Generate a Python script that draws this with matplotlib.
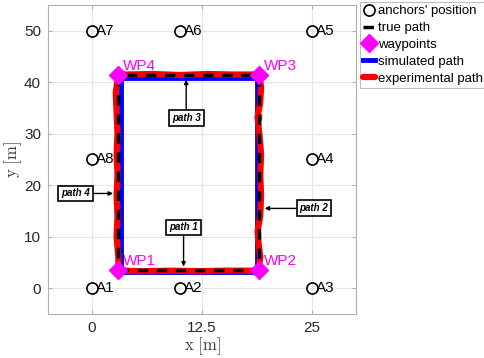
import matplotlib.pyplot as plt
import numpy as np

plt.rcParams['font.family'] = ['Liberation Sans', 'DejaVu Sans']
plt.rcParams['mathtext.fontset'] = 'cm'

# anchors
anchor_x = [0, 10, 25, 25, 25, 10, 0, 0]
anchor_y = [0, 0, 0, 25, 50, 50, 50, 25]
anchor_names = ['A1', 'A2', 'A3', 'A4', 'A5', 'A6', 'A7', 'A8']

# waypoints / true path
wp_x = [3, 19, 19, 3]
wp_y = [3.5, 3.5, 41.5, 41.5]
wp_names = ['WP1', 'WP2', 'WP3', 'WP4']

# simulated path
sim_x = [3.3, 18.7, 18.7, 3.3, 3.3]
sim_y = [3.2, 3.2, 40.8, 40.8, 3.2]

# experimental path
exp_x = [3.0, 6.0, 9.0, 12.0, 15.0, 18.9,
         19.1, 18.9, 18.8, 19.1, 19.2, 19.1, 19.2, 19.0, 18.8, 19.1, 19.2, 19.0,
         16.0, 13.0, 10.0, 7.0, 4.0, 3.0,
         2.7, 2.8, 2.9, 2.8, 2.9, 2.8, 2.9, 2.8, 3.0, 3.0]
exp_y = [3.4, 3.3, 3.4, 3.3, 3.4, 3.4,
         6.0, 9.0, 11.0, 14.0, 18.0, 22.0, 26.0, 30.0, 33.3, 36.0, 39.0, 41.5,
         41.5, 41.6, 41.4, 41.6, 41.5, 41.5,
         38.0, 34.0, 30.0, 26.0, 22.0, 18.0, 14.0, 10.0, 6.0, 3.4]

# annotations: text, box position, arrow tip
ann_text = ['path 1', 'path 2', 'path 3', 'path 4']
ann_box = [(10.4, 11.8), (25.2, 15.5), (10.7, 33.0), (-1.9, 18.4)]
ann_tip = [(10.4, 4.2), (19.6, 15.5), (10.7, 40.5), (2.4, 18.4)]

fig = plt.figure(figsize=(4.84, 3.58), dpi=100)
ax = fig.add_axes([0.099, 0.123, 0.637, 0.863])

ax.plot(anchor_x, anchor_y, 'o', mfc='none', mec='k', ms=8, mew=1.2,
        ls='none', label="anchors' position", zorder=3)
for x, y, n in zip(anchor_x, anchor_y, anchor_names):
    ax.text(x + 0.45, y, n, fontsize=11, va='center', ha='left', color='k')

ax.plot(wp_x + [wp_x[0]], wp_y + [wp_y[0]], '--', color='k', lw=2.5,
        dashes=(3, 2.5), zorder=5, label='true path')
ax.plot(wp_x, wp_y, 'D', color='#ff00ff', ms=9, ls='none', zorder=6,
        label='waypoints')
for x, y, n in zip(wp_x, wp_y, wp_names):
    ax.text(x + 0.5, y + 1.7, n, color='#ff00ff', fontsize=11, ha='left',
            va='center')

ax.plot(sim_x, sim_y, '-', color='#0000ff', lw=3.5, zorder=3,
        label='simulated path')
ax.plot(exp_x, exp_y, '-', color='#ff0000', lw=4.5, zorder=4,
        solid_capstyle='round', solid_joinstyle='round',
        label='experimental path')
ax.plot([18.8], [33.3], '<', color='#ff0000', ms=5, zorder=4)

for t, b, tip in zip(ann_text, ann_box, ann_tip):
    ax.annotate(t, xy=tip, xytext=b, fontsize=7, fontweight='bold',
                fontstyle='italic', ha='center', va='center',
                bbox=dict(boxstyle='square,pad=0.3', fc='white', ec='k', lw=1.2),
                arrowprops=dict(arrowstyle='-|>', color='k', lw=1,
                                mutation_scale=6, shrinkA=0, shrinkB=0),
                zorder=7)

ax.set_xlim(-5, 30)
ax.set_ylim(-5, 55)
ax.set_xticks([0, 12.5, 25])
ax.set_xticklabels(['0', '12.5', '25'])
ax.set_yticks([0, 10, 20, 30, 40, 50])
ax.grid(True, color='#e6e6e6', lw=0.8)
ax.set_axisbelow(True)
for s in ax.spines.values():
    s.set_color('#b0b0b0')
ax.tick_params(colors='#b0b0b0', labelcolor='#262626', labelsize=11,
               direction='in', length=3, width=0.8, pad=5,
               top=True, right=True)
ax.set_xlabel(r'$\mathrm{x\ [m]}$', fontsize=12, color='#404040', labelpad=0)
ax.set_ylabel(r'$\mathrm{y\ [m]}$', fontsize=12, color='#404040', labelpad=0)

leg = fig.legend(loc='upper left', bbox_to_anchor=(0.743, 0.995),
                 fontsize=9.5, frameon=True, fancybox=False, handlelength=0.9,
                 handletextpad=0.25, borderpad=0.25, labelspacing=0.35,
                 borderaxespad=0)
leg.get_frame().set_edgecolor('#b0b0b0')
leg.get_frame().set_linewidth(0.8)

fig.savefig('out.png', dpi=100)
